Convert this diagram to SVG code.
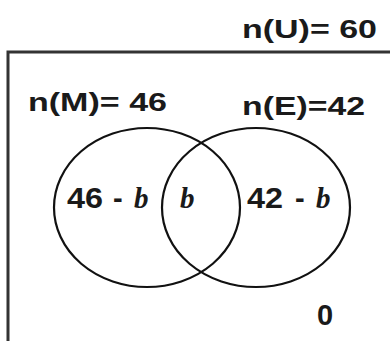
<svg xmlns="http://www.w3.org/2000/svg" width="390" height="341" viewBox="0 0 390 341">
<style>
.hdr{font-family:"Liberation Sans",Arial,sans-serif;font-weight:bold;font-size:25px;fill:#1a1a1a}
.num{font-family:"Liberation Sans",Arial,sans-serif;font-weight:bold;font-size:29px;fill:#1a1a1a}
.var{font-family:"Liberation Serif","Times New Roman",serif;font-weight:bold;font-style:italic;font-size:29px;fill:#1a1a1a}
.set{fill:none;stroke:#111;stroke-width:2.2}
</style>
<rect width="390" height="341" fill="#fff"/>
<g id="universe">
<path d="M8,344 V52 H392" fill="none" stroke="#333" stroke-width="3"/>
<text class="hdr" x="242" y="38" textLength="135" lengthAdjust="spacingAndGlyphs">n(U)= 60</text>
<text class="num" x="317" y="325">0</text>
</g>
<g id="setM">
<ellipse class="set" cx="147" cy="207.5" rx="93" ry="79.5"/>
<text class="hdr" x="28" y="111" textLength="139" lengthAdjust="spacingAndGlyphs">n(M)= 46</text>
<text y="208"><tspan class="num" x="67" textLength="36" lengthAdjust="spacingAndGlyphs">46</tspan><tspan class="num" x="113">-</tspan><tspan class="var" x="134">b</tspan></text>
</g>
<g id="setE">
<ellipse class="set" cx="256" cy="207.5" rx="94" ry="79.5"/>
<text class="hdr" x="242" y="115" textLength="123" lengthAdjust="spacingAndGlyphs">n(E)=42</text>
<text y="208"><tspan class="num" x="247" textLength="36" lengthAdjust="spacingAndGlyphs">42</tspan><tspan class="num" x="295">-</tspan><tspan class="var" x="316">b</tspan></text>
</g>
<g id="intersection">
<text class="var" x="180" y="208">b</text>
</g>
<g id="connectors"/>
</svg>
